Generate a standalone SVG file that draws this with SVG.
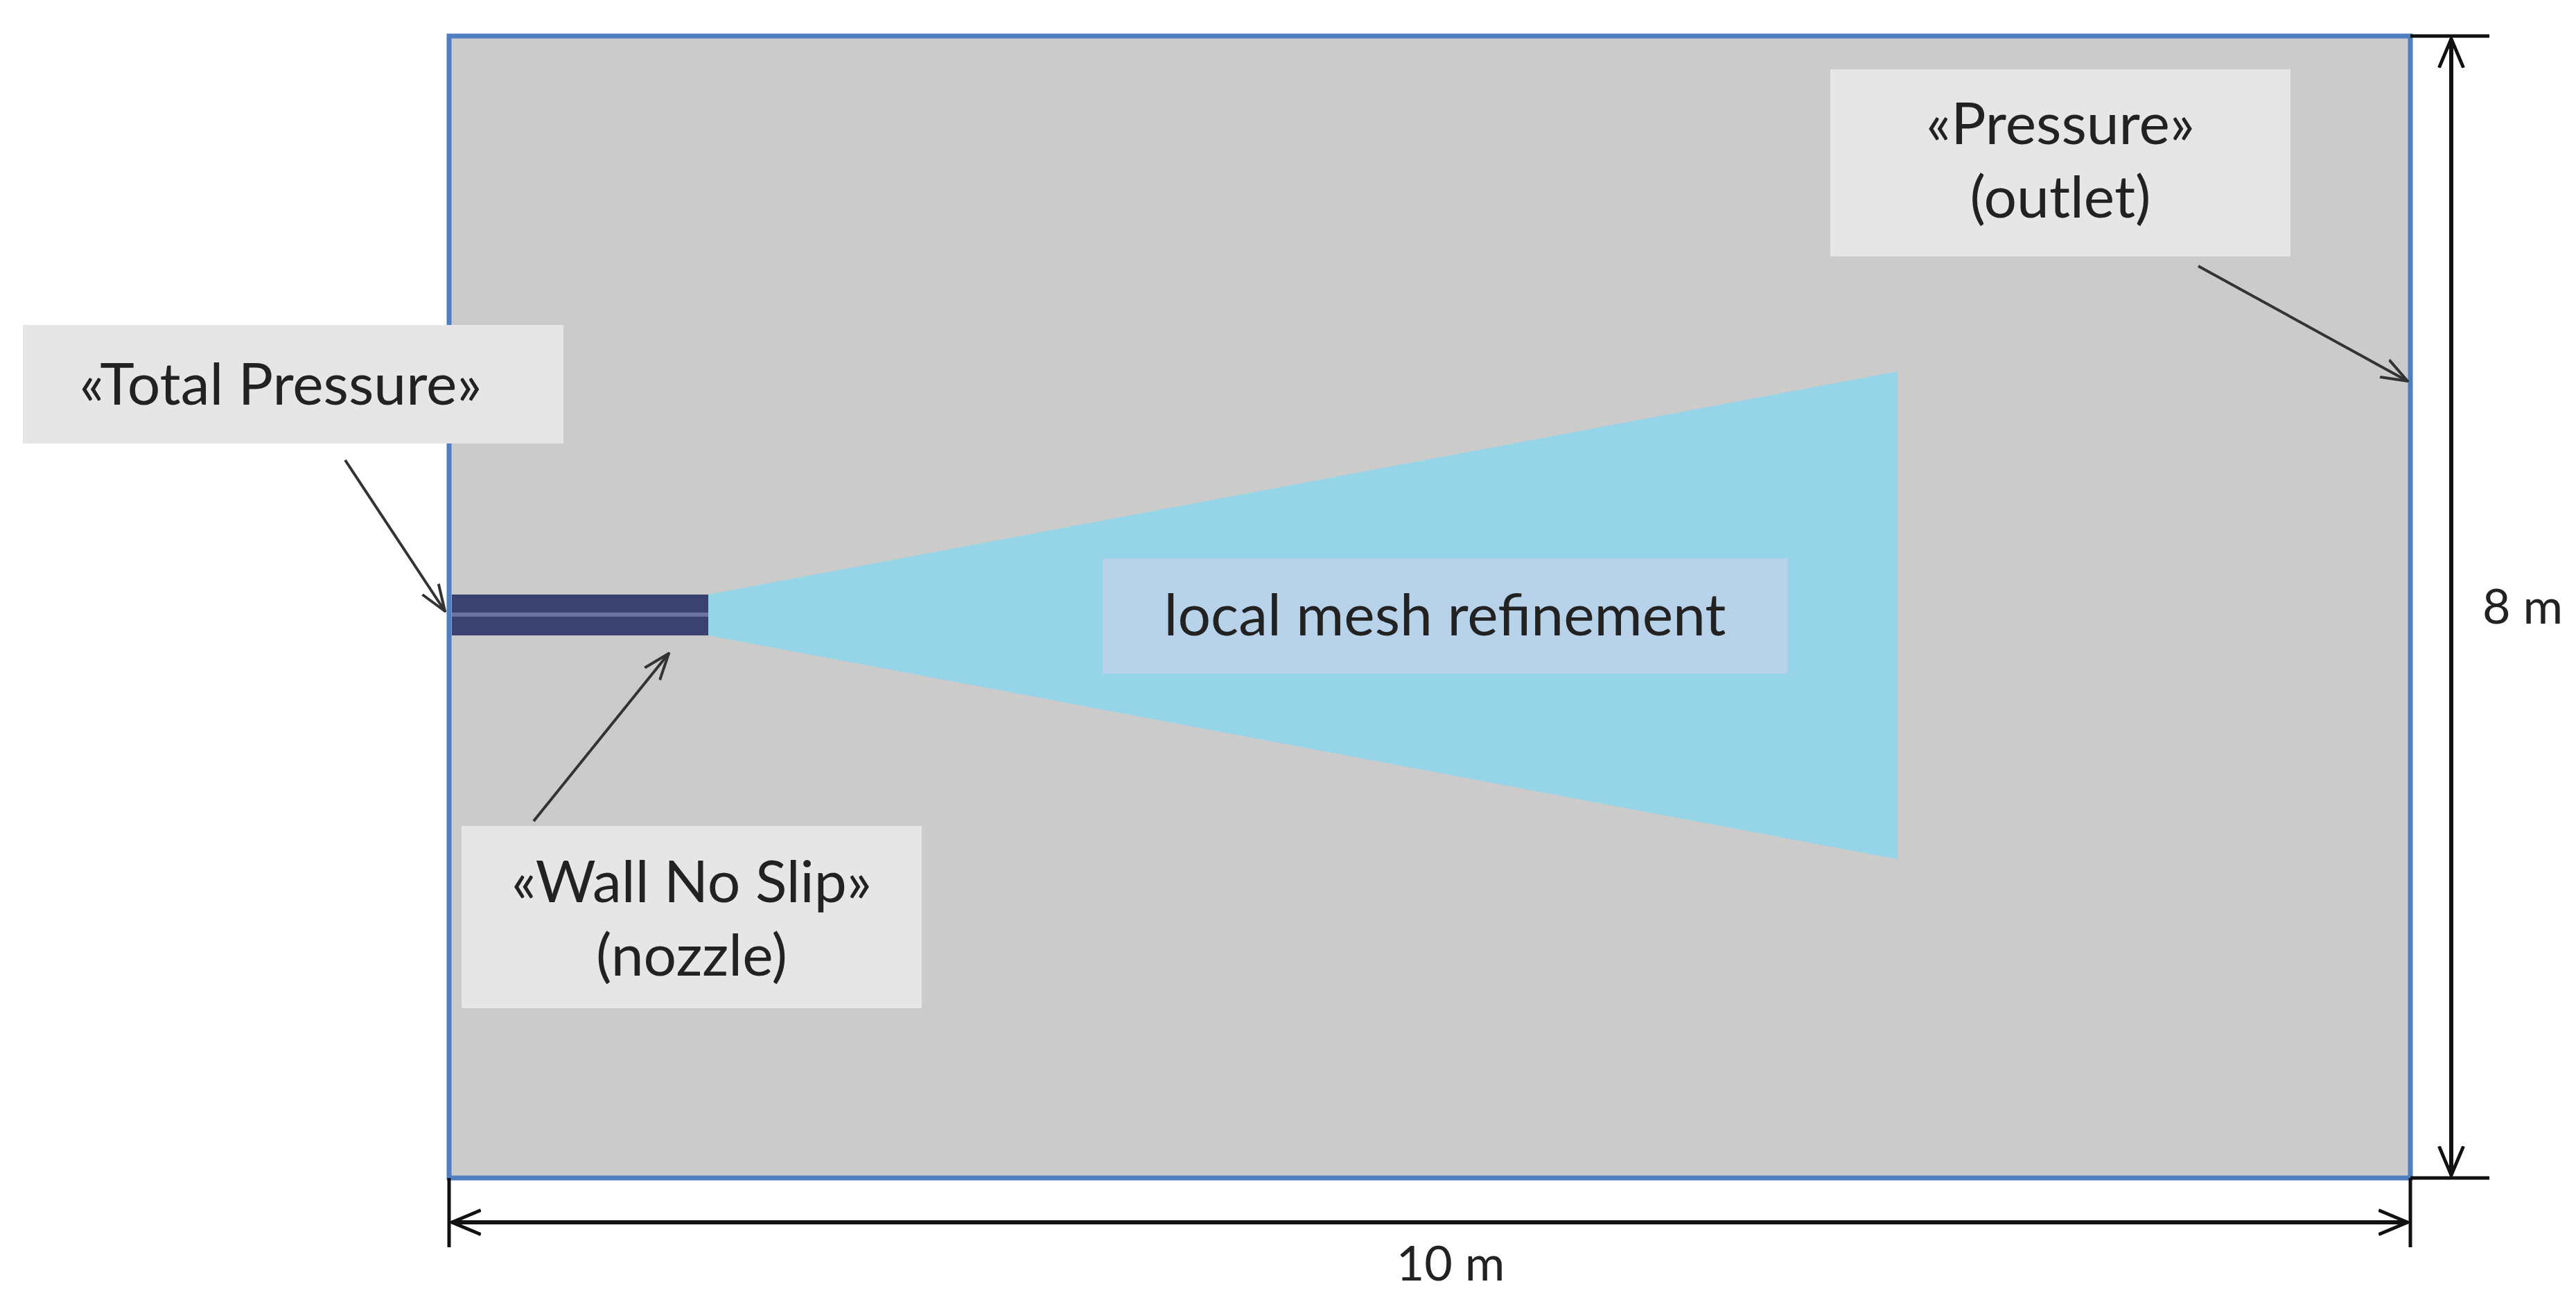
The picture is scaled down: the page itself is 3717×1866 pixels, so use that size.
<svg xmlns="http://www.w3.org/2000/svg" width="3717" height="1866" viewBox="0 0 3717 1866">
<defs>
<style>
.t{font-family:Lato,"Open Sans",sans-serif;font-size:84px;fill:#222;text-anchor:middle}
.lbl{fill:#e6e6e6}
.ar{stroke:#333;stroke-width:4;fill:none}
.dim{stroke:#111;stroke-width:6;fill:none}
</style>
<marker id="a" markerWidth="40" markerHeight="40" refX="19" refY="10" orient="auto" markerUnits="userSpaceOnUse" viewBox="0 0 20 20"><path d="M0,3 L19,10 L0,17" fill="none" stroke="#333" stroke-width="2"/></marker>
<marker id="d" viewBox="0 0 20 20" refX="19" refY="10" markerWidth="44" markerHeight="44" orient="auto-start-reverse" markerUnits="userSpaceOnUse"><path d="M0,2 L19,10 L0,18" fill="none" stroke="#111" stroke-width="2.2"/></marker>
</defs>
<rect width="3717" height="1866" fill="#fff"/>
<g id="domain">
<rect x="648" y="52" width="2830" height="1648" fill="#cbcbcb" stroke="#4f7fbf" stroke-width="7"/>
</g>
<g id="refinement">
<polygon points="1022,858 2738,536 2738,1240 1022,917" fill="#96d5e8"/>
<rect x="1591" y="806" width="988" height="166" fill="#b8d2ea"/>
<text class="t" x="2085" y="917">local mesh refinement</text>
</g>
<g id="nozzle">
<rect x="652" y="858" width="370" height="59" fill="#3b4270"/>
<rect x="652" y="884" width="370" height="6" fill="#6c73a0"/>
</g>
<g id="total">
<rect class="lbl" x="33" y="469" width="780" height="171"/>
<text class="t" x="405" y="584">«Total Pressure»</text>
</g>
<g id="outlet">
<rect class="lbl" x="2641" y="100" width="664" height="270"/>
<text class="t" x="2973" y="208">«Pressure»</text>
<text class="t" x="2973" y="314">(outlet)</text>
</g>
<g id="wall">
<rect class="lbl" x="666" y="1192" width="664" height="263"/>
<text class="t" x="998" y="1302">«Wall No Slip»</text>
<text class="t" x="998" y="1408">(nozzle)</text>
</g>
<g id="connectors">
<line class="ar" x1="498" y1="664" x2="642" y2="882" marker-end="url(#a)"/>
<line class="ar" x1="770" y1="1185" x2="965" y2="943" marker-end="url(#a)"/>
<line class="ar" x1="3172" y1="384" x2="3474" y2="550" marker-end="url(#a)"/>
<line class="dim" x1="3537" y1="56" x2="3537" y2="1696" marker-start="url(#d)" marker-end="url(#d)"/>
<line class="dim" x1="652" y1="1764" x2="3474" y2="1764" marker-start="url(#d)" marker-end="url(#d)"/>
<line stroke="#111" stroke-width="5" x1="3478" y1="52" x2="3592" y2="52"/>
<line stroke="#111" stroke-width="5" x1="3478" y1="1700" x2="3592" y2="1700"/>
<line stroke="#111" stroke-width="5" x1="648" y1="1700" x2="648" y2="1800"/>
<line stroke="#111" stroke-width="5" x1="3478" y1="1700" x2="3478" y2="1800"/>
</g>
<text class="t" x="3640" y="900" style="font-size:70px">8 m</text>
<text class="t" x="2093" y="1848" style="font-size:70px">10 m</text>
</svg>
